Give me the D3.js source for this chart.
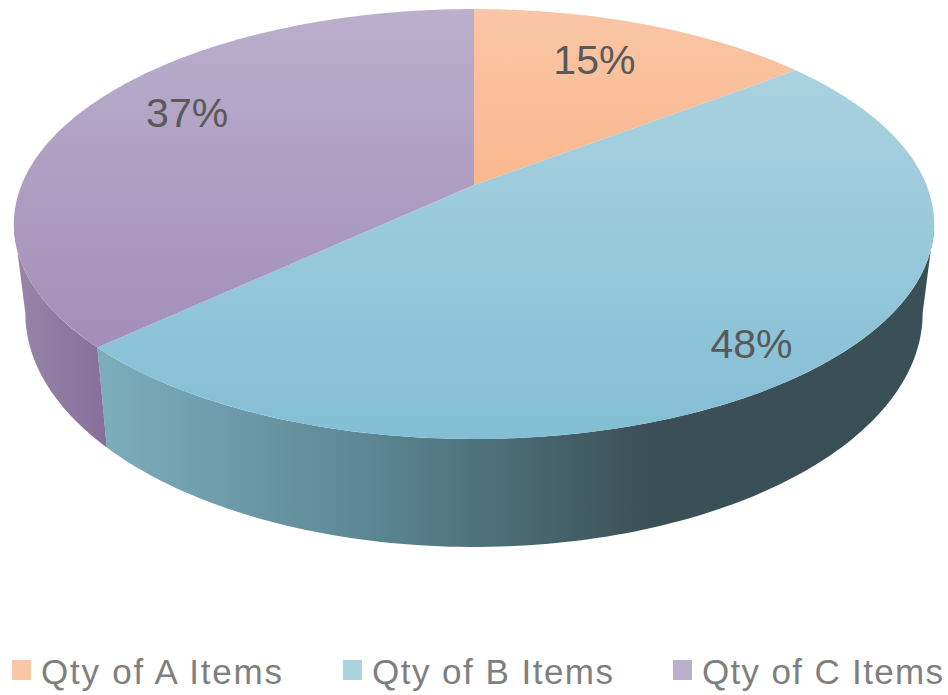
<!DOCTYPE html>
<html><head><meta charset="utf-8">
<script src="https://cdn.jsdelivr.net/npm/d3@7"></script>
<style>html,body{margin:0;background:#fff}svg{display:block}text{font-family:"Liberation Sans",Arial,sans-serif}</style>
</head><body><svg id="c" width="948" height="695"></svg>
<script>
const categories = ["Qty of A Items","Qty of B Items","Qty of C Items"];
const values = [14.5,48.5,37];
const labels = ["15%","48%","37%"];
const topColors = [["#f9c6a6","#fab78e"],["#aad2df","#83bed5"],["#baafcc","#a38eb8"]];
const sideColors = [null,["#7cadbb","#5b8592","#3b4f57","#3b4f57"],["#9685a9","#86709a"]];

const W=948,H=695,svg=d3.select("#c");
const defs=svg.append("defs");
const cx=474,cy=185,a=452.5,b=207.9,k=0.1814;
// perspective projection of a disc onto the page
const proj=(t,r=1)=>{const u=r*Math.cos(t),v=r*Math.sin(t),d=1+k*u;return [cx+a*v/d,cy-b*u/d];};
const lower=([x,y])=>[cx+0.975*(x-cx),y+100+(y-347)*0.087];
const pie=d3.pie().sort(null)(values);
const line=d3.line();
const arcPts=(t0,t1,fn=p=>p)=>d3.range(0,121).map(i=>fn(proj(t0+(t1-t0)*i/120)));

const grad=(id,stops,horizontal,p0,p1)=>{
  const g=defs.append("linearGradient").attr("id",id).attr("gradientUnits","userSpaceOnUse")
    .attr("x1",horizontal?p0:0).attr("x2",horizontal?p1:0).attr("y1",horizontal?0:p0).attr("y2",horizontal?0:p1);
  stops.forEach((c,i)=>g.append("stop").attr("offset",i/(stops.length-1)).attr("stop-color",c));
};
const tickTop=[[9,185],[72,439],[9,347]];
pie.forEach((s,i)=>grad("top"+i,topColors[i],false,tickTop[i][0],tickTop[i][1]));
grad("side1",sideColors[1],true,105,925);
grad("side2",sideColors[2],true,18,105);

// rim: only the near side of the disc shows
const xRight=Math.acos(-k),xLeft=2*Math.PI-xRight;
[[1,xRight,pie[1].endAngle],[2,pie[2].startAngle,xLeft]].forEach(([i,t0,t1])=>{
  svg.append("path").attr("d",line([...arcPts(t0,t1),...arcPts(t1,t0,lower)])+"Z").attr("fill",`url(#side${i})`);
});
// faces
svg.selectAll("path.face").data(pie).join("path").attr("class","face")
  .attr("d",s=>line([proj(0,0),...arcPts(s.startAngle,s.endAngle)])+"Z")
  .attr("fill",(s,i)=>`url(#top${i})`);

// percentage labels
const labelR=[0.74,0.86,0.77],labelShift=[-0.04,0.03,0.09];
svg.selectAll("text.pct").data(pie).join("text").attr("class","pct")
  .attr("text-anchor","middle").attr("font-size",41).attr("fill","#595959")
  .text((s,i)=>labels[i])
  .attr("transform",(s,i)=>{const p=proj((s.startAngle+s.endAngle)/2+labelShift[i],labelR[i]);return `translate(${p[0]},${p[1]+14})`;});

// legend
const legendX=d3.scaleOrdinal().domain(categories).range([12,343,673]);
const lg=svg.selectAll("g.lg").data(categories).join("g").attr("class","lg")
  .attr("transform",c=>`translate(${legendX(c)},660)`);
categories.forEach((c,i)=>grad("leg"+i,topColors[i],false,660,680));
lg.append("rect").attr("width",19).attr("height",20).attr("fill",(c,i)=>`url(#leg${i})`);
lg.append("text").attr("x",29).attr("y",24).attr("font-size",35).attr("textLength",241).attr("lengthAdjust","spacing").attr("fill","#7f7f7f").text(c=>c);
</script></body></html>
